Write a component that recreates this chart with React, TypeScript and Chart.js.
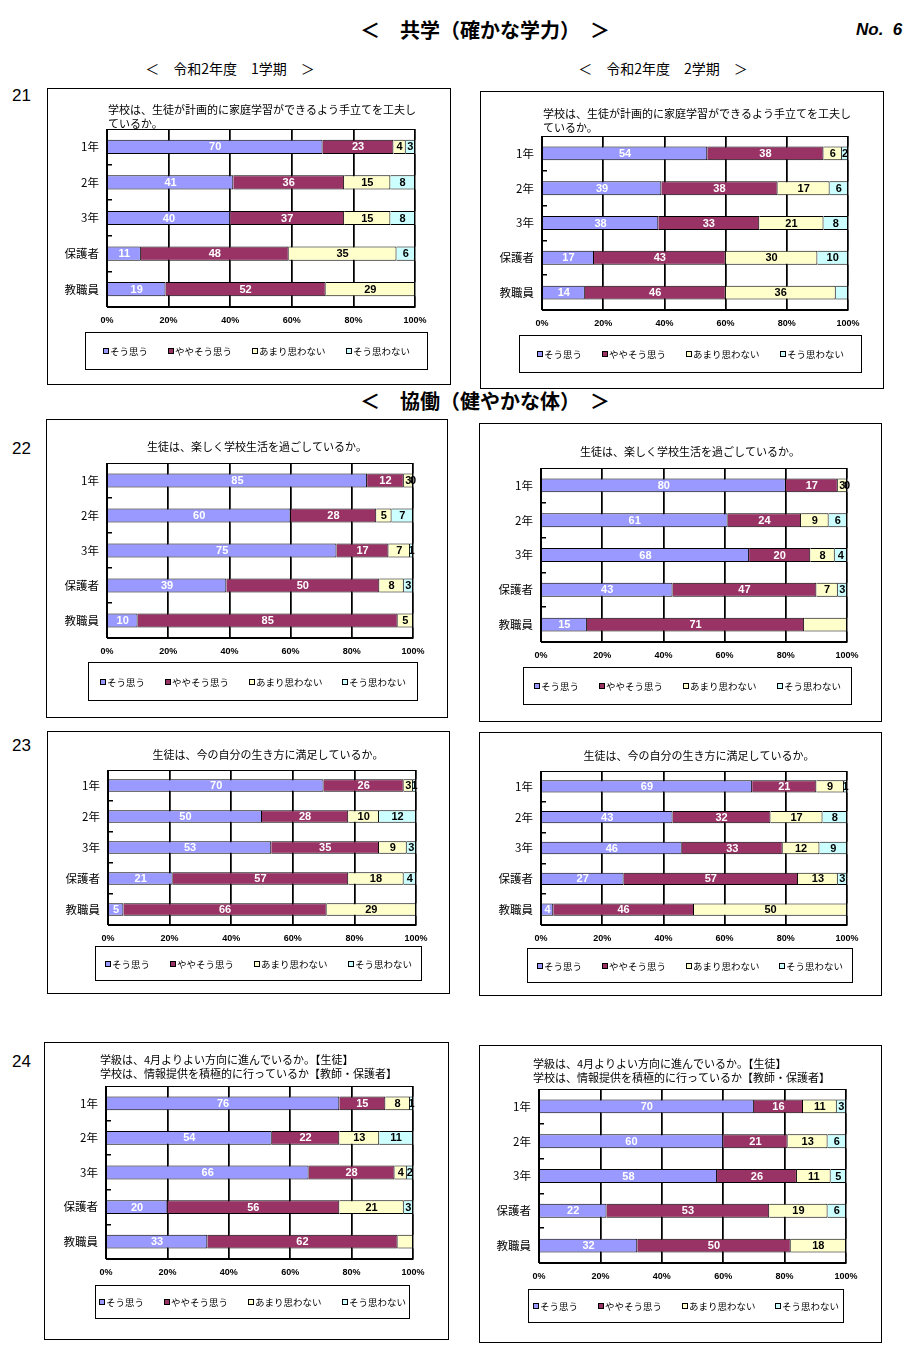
import React, { useEffect, useRef } from 'react';
import { Chart, registerables } from 'chart.js';

Chart.register(...registerables);

// ---------- shared categories / series ----------
const categories = ['1年', '2年', '3年', '保護者', '教職員'];
const seriesLabels = ['そう思う', 'ややそう思う', 'あまり思わない', 'そう思わない'];
const seriesColors = ['#9999FF', '#993366', '#FFFFCC', '#CCFFFF'];
const valueLabelColors = ['#FFFFFF', '#FFFFFF', '#000000', '#000000'];
const xTickStep = 20;

// ---------- Q21 (1学期 / 2学期) ----------
const q21t1Agree = [70, 41, 40, 11, 19];
const q21t1Somewhat = [23, 36, 37, 48, 52];
const q21t1NotMuch = [4, 15, 15, 35, 29];
const q21t1Not = [3, 8, 8, 6, null];

const q21t2Agree = [54, 39, 38, 17, 14];
const q21t2Somewhat = [38, 38, 33, 43, 46];
const q21t2NotMuch = [6, 17, 21, 30, 36];
const q21t2Not = [2, 6, 8, 10, 4];

// ---------- Q22 ----------
const q22t1Agree = [85, 60, 75, 39, 10];
const q22t1Somewhat = [12, 28, 17, 50, 85];
const q22t1NotMuch = [3, 5, 7, 8, 5];
const q22t1Not = [0, 7, 1, 3, null];

const q22t2Agree = [80, 61, 68, 43, 15];
const q22t2Somewhat = [17, 24, 20, 47, 71];
const q22t2NotMuch = [3, 9, 8, 7, 14];
const q22t2Not = [0, 6, 4, 3, null];

// ---------- Q23 ----------
const q23t1Agree = [70, 50, 53, 21, 5];
const q23t1Somewhat = [26, 28, 35, 57, 66];
const q23t1NotMuch = [3, 10, 9, 18, 29];
const q23t1Not = [1, 12, 3, 4, null];

const q23t2Agree = [69, 43, 46, 27, 4];
const q23t2Somewhat = [21, 32, 33, 57, 46];
const q23t2NotMuch = [9, 17, 12, 13, 50];
const q23t2Not = [1, 8, 9, 3, null];

// ---------- Q24 ----------
const q24t1Agree = [76, 54, 66, 20, 33];
const q24t1Somewhat = [15, 22, 28, 56, 62];
const q24t1NotMuch = [8, 13, 4, 21, 5];
const q24t1Not = [1, 11, 2, 3, null];

const q24t2Agree = [70, 60, 58, 22, 32];
const q24t2Somewhat = [16, 21, 26, 53, 50];
const q24t2NotMuch = [11, 13, 11, 19, 18];
const q24t2Not = [3, 6, 5, 6, null];

// ---------- titles ----------
const title21 = ['学校は、生徒が計画的に家庭学習ができるよう手立てを工夫し', 'ているか。'];
const title22 = ['生徒は、楽しく学校生活を過ごしているか。'];
const title23 = ['生徒は、今の自分の生き方に満足しているか。'];
const title24 = ['学級は、4月よりよい方向に進んでいるか。【生徒】', '学校は、情報提供を積極的に行っているか【教師・保護者】'];

const JP = '"Noto Sans CJK JP", "Noto Sans", sans-serif';
const LAT = '"Liberation Sans", Arial, sans-serif';
const GRID_W = 1.5;

type Def = {
  key: string;
  box: [number, number, number, number];
  plot: [number, number, number, number];
  legend: [number, number, number, number];
  title: { lines: string[]; align: 'left' | 'center'; x: number; y: number[] };
  series: (number | null)[][];
  hidden: [number, number][];
};

const DEFS: Def[] = [
  {
    key: '21L', box: [47, 88, 404, 297], plot: [107, 129, 415, 307], legend: [85, 332, 343, 38],
    title: { lines: title21, align: 'left', x: 108, y: [110, 124] },
    series: [q21t1Agree, q21t1Somewhat, q21t1NotMuch, q21t1Not], hidden: [],
  },
  {
    key: '21R', box: [480, 91, 404, 298], plot: [542, 136, 848, 310], legend: [519, 335, 343, 38],
    title: { lines: title21, align: 'left', x: 543, y: [114, 128] },
    series: [q21t2Agree, q21t2Somewhat, q21t2NotMuch, q21t2Not], hidden: [[3, 4]],
  },
  {
    key: '22L', box: [46, 419, 402, 299], plot: [107, 463, 413, 638], legend: [88, 662, 330, 39],
    title: { lines: title22, align: 'center', x: 257, y: [447] },
    series: [q22t1Agree, q22t1Somewhat, q22t1NotMuch, q22t1Not], hidden: [],
  },
  {
    key: '22R', box: [479, 423, 403, 299], plot: [541, 468, 847, 642], legend: [523, 667, 329, 38],
    title: { lines: title22, align: 'center', x: 690, y: [452] },
    series: [q22t2Agree, q22t2Somewhat, q22t2NotMuch, q22t2Not], hidden: [[2, 4]],
  },
  {
    key: '23L', box: [47, 731, 403, 263], plot: [108, 770, 416, 925], legend: [95, 946, 327, 35],
    title: { lines: title23, align: 'center', x: 268, y: [755] },
    series: [q23t1Agree, q23t1Somewhat, q23t1NotMuch, q23t1Not], hidden: [],
  },
  {
    key: '23R', box: [479, 732, 403, 264], plot: [541, 771, 847, 925], legend: [527, 948, 326, 35],
    title: { lines: title23, align: 'center', x: 699, y: [756] },
    series: [q23t2Agree, q23t2Somewhat, q23t2NotMuch, q23t2Not], hidden: [],
  },
  {
    key: '24L', box: [44, 1042, 405, 298], plot: [106, 1086, 413, 1259], legend: [95, 1285, 315, 34],
    title: { lines: title24, align: 'left', x: 100, y: [1060, 1074] },
    series: [q24t1Agree, q24t1Somewhat, q24t1NotMuch, q24t1Not], hidden: [[2, 4]],
  },
  {
    key: '24R', box: [479, 1045, 403, 298], plot: [539, 1089, 846, 1263], legend: [528, 1289, 316, 34],
    title: { lines: title24, align: 'left', x: 533, y: [1064, 1078] },
    series: [q24t2Agree, q24t2Somewhat, q24t2NotMuch, q24t2Not], hidden: [],
  },
];

function ChartBox({ def }: { def: Def }) {
  const ref = useRef<HTMLCanvasElement | null>(null);
  const [bx, by, bw, bh] = def.box;
  const x0 = bx + 1;
  const y0 = by + 1;
  const W = bw - 2;
  const H = bh - 2;

  useEffect(() => {
    if (!ref.current) return;
    const [pl, pt, pr, pb] = def.plot;

    const decor = {
      id: 'excelDecor',
      afterDatasetsDraw(chart: any) {
        const ctx = chart.ctx;
        ctx.save();
        ctx.font = `bold 11px ${LAT}`;
        ctx.textAlign = 'center';
        ctx.textBaseline = 'middle';
        chart.data.datasets.forEach((ds: any, i: number) => {
          const meta = chart.getDatasetMeta(i);
          meta.data.forEach((el: any, j: number) => {
            const v = ds.data[j];
            if (v === null || v === undefined) return;
            if (def.hidden.some(([a, b]) => a === i && b === j)) return;
            const p = el.getProps(['x', 'y', 'base'], true);
            ctx.fillStyle = valueLabelColors[i];
            ctx.fillText(String(v), (p.x + p.base) / 2, p.y + 0.5);
          });
        });
        ctx.restore();
      },
      afterDraw(chart: any) {
        const ctx = chart.ctx;
        const a = chart.chartArea;
        const xs = chart.scales.x;
        const ys = chart.scales.y;
        ctx.save();

        // vertical gridlines drawn in the gaps between bars (so they sit "behind" the bars)
        const meta0 = chart.getDatasetMeta(0);
        const gaps: [number, number][] = [];
        let prev = a.top;
        meta0.data.forEach((el: any) => {
          const p = el.getProps(['y', 'height'], true);
          gaps.push([prev, p.y - p.height / 2]);
          prev = p.y + p.height / 2;
        });
        gaps.push([prev, a.bottom]);
        ctx.strokeStyle = '#000000';
        ctx.lineWidth = GRID_W;
        ctx.beginPath();
        xs.ticks.forEach((t: any) => {
          const px = Math.round(xs.getPixelForValue(t.value) - GRID_W / 2) + GRID_W / 2;
          gaps.forEach(([g0, g1]) => {
            ctx.moveTo(px, g0);
            ctx.lineTo(px, g1);
          });
        });
        ctx.stroke();

        // plot frame
        ctx.fillStyle = '#000000';
        const L = Math.round(a.left);
        const T = Math.round(a.top);
        const R = Math.round(a.right);
        const B = Math.round(a.bottom);
        ctx.fillRect(L, T, R - L, 1);
        ctx.fillRect(L, B - 1, R - L, 1);
        ctx.fillRect(L, T, 1, B - T);
        ctx.fillRect(R - 1, T, 1, B - T);

        // inner category-boundary tick marks
        ctx.beginPath();
        for (let k = 1; k < categories.length; k++) {
          const mid = (ys.getPixelForValue(k - 1) + ys.getPixelForValue(k)) / 2;
          const yy = Math.round(mid - GRID_W / 2) + GRID_W / 2;
          ctx.moveTo(L, yy);
          ctx.lineTo(L + 5, yy);
        }
        ctx.stroke();

        // chart title
        ctx.font = `11px ${JP}`;
        ctx.textBaseline = 'middle';
        ctx.textAlign = def.title.align;
        def.title.lines.forEach((ln, i) => {
          ctx.fillText(ln, def.title.x - x0, def.title.y[i] - y0);
        });

        // legend box
        const [lx, ly, lw, lh] = def.legend;
        const rx = lx - x0;
        const ry = ly - y0;
        ctx.fillRect(rx, ry, lw, 1);
        ctx.fillRect(rx, ry + lh - 1, lw, 1);
        ctx.fillRect(rx, ry, 1, lh);
        ctx.fillRect(rx + lw - 1, ry, 1, lh);
        ctx.font = `9.5px ${JP}`;
        ctx.textAlign = 'left';
        const sq = 6;
        const gapText = 1;
        const gapItem = 20;
        const widths = seriesLabels.map((s) => ctx.measureText(s).width);
        const total = widths.reduce((s, w) => s + sq + gapText + w, 0) + gapItem * (seriesLabels.length - 1);
        let cx = rx + (lw - total) / 2;
        const cy = ry + lh / 2;
        seriesLabels.forEach((s, i) => {
          const sx = Math.round(cx);
          const sy = Math.round(cy - sq / 2);
          ctx.fillStyle = '#000';
          ctx.fillRect(sx, sy, sq, sq);
          ctx.fillStyle = seriesColors[i];
          ctx.fillRect(sx + 1, sy + 1, sq - 2, sq - 2);
          ctx.fillStyle = '#000';
          ctx.fillText(s, sx + sq + gapText, cy + 0.5);
          cx += sq + gapText + widths[i] + gapItem;
        });
        ctx.restore();
      },
    };

    const chart = new Chart(ref.current, {
      type: 'bar',
      data: {
        labels: categories,
        datasets: def.series.map((d, i) => ({
          label: seriesLabels[i],
          data: d,
          backgroundColor: seriesColors[i],
          borderColor: '#000',
          borderWidth: 1,
          barPercentage: 0.4,
          categoryPercentage: 1,
        })),
      },
      options: {
        indexAxis: 'y',
        responsive: false,
        maintainAspectRatio: false,
        animation: false,
        events: [],
        layout: { padding: { top: pt - y0, right: x0 + W - pr, left: 0, bottom: 0 } },
        plugins: { legend: { display: false }, title: { display: false }, tooltip: { enabled: false } },
        scales: {
          x: {
            stacked: true,
            min: 0,
            max: 100,
            ticks: {
              stepSize: xTickStep,
              callback: (v: any) => `${v}%`,
              color: '#000',
              font: { family: LAT, size: 9, weight: 'bold' },
              padding: 8,
              maxRotation: 0,
              autoSkip: false,
            },
            grid: { color: '#000000', lineWidth: GRID_W, drawTicks: false },
            border: { display: true, color: '#000' },
            afterFit: (s: any) => { s.height = y0 + H - pb; },
          },
          y: {
            stacked: true,
            ticks: { color: '#000', font: { family: JP, size: 11.5 }, padding: 8 },
            grid: { display: false, drawTicks: false },
            border: { display: true, color: '#000' },
            afterFit: (s: any) => { s.width = pl - x0; },
          },
        },
      } as any,
      plugins: [decor],
    });
    return () => chart.destroy();
  }, [def]);

  return (
    <div
      style={{
        position: 'absolute', left: bx, top: by, width: bw, height: bh,
        border: '1px solid #000', boxSizing: 'border-box', background: '#fff',
      }}
    >
      <canvas ref={ref} width={W} height={H} style={{ display: 'block', width: W, height: H }} />
    </div>
  );
}

function Txt({ x, y, w, align, size, weight, italic, family, children }: any) {
  const h = 30;
  const left = align === 'center' ? x - w / 2 : x;
  return (
    <div
      style={{
        position: 'absolute', left, top: y - h / 2, width: w, height: h, lineHeight: `${h}px`,
        textAlign: align, fontSize: size, fontWeight: weight || 'normal', fontStyle: italic ? 'italic' : 'normal',
        fontFamily: family || JP, color: '#000', whiteSpace: 'pre',
      }}
    >
      {children}
    </div>
  );
}

export default function App() {
  return (
    <div style={{ position: 'absolute', left: 0, top: 0, width: 924, height: 1361, background: '#fff', overflow: 'hidden' }}>
      <Txt x={485} y={30} w={400} align="center" size={20} weight="bold">＜　共学（確かな学力）　＞</Txt>
      <Txt x={856} y={30} w={70} align="left" size={17} weight="bold" italic family={LAT}>{'No.  6'}</Txt>
      <Txt x={230} y={68} w={300} align="center" size={14}>＜　令和2年度　1学期　＞</Txt>
      <Txt x={663} y={68} w={300} align="center" size={14}>＜　令和2年度　2学期　＞</Txt>
      <Txt x={12} y={96} w={40} align="left" size={17} family={LAT}>21</Txt>
      <Txt x={485} y={401} w={400} align="center" size={20} weight="bold">＜　協働（健やかな体）　＞</Txt>
      <Txt x={12} y={449} w={40} align="left" size={17} family={LAT}>22</Txt>
      <Txt x={12} y={746} w={40} align="left" size={17} family={LAT}>23</Txt>
      <Txt x={12} y={1062} w={40} align="left" size={17} family={LAT}>24</Txt>
      {DEFS.map((d) => (
        <ChartBox key={d.key} def={d} />
      ))}
    </div>
  );
}
